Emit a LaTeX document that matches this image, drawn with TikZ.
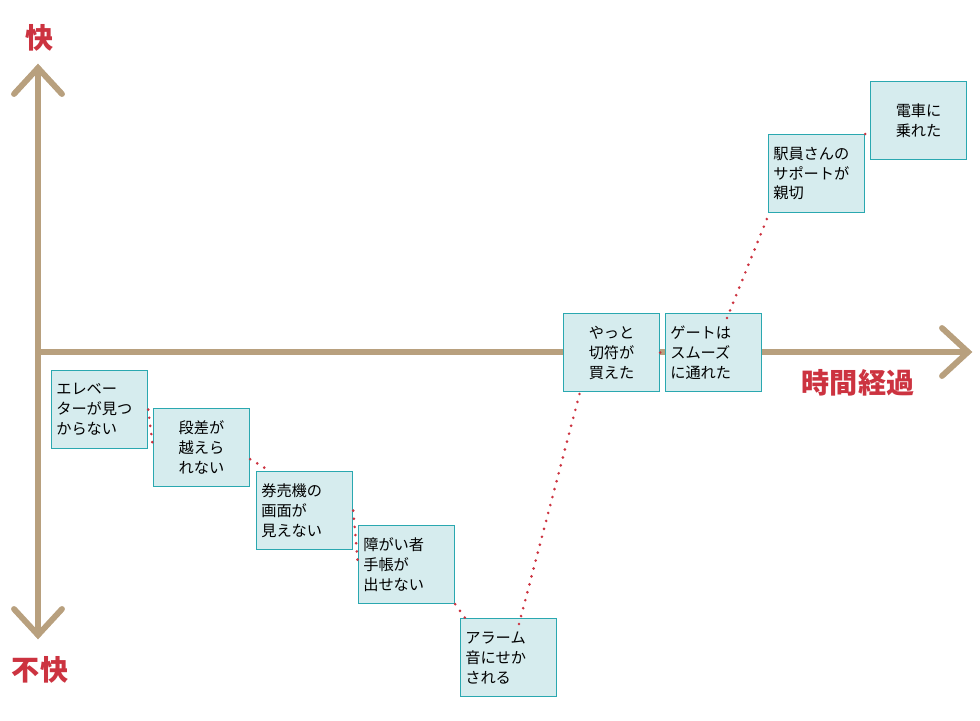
\documentclass[tikz,border=0pt]{standalone}
\usepackage{fontspec}
\setmainfont{Noto Sans CJK JP}
\definecolor{axiscol}{HTML}{B8A07E}
\definecolor{boxfill}{HTML}{D6ECEE}
\definecolor{boxline}{HTML}{2AA8B0}
\definecolor{labred}{HTML}{CC3340}
\begin{document}
\begin{tikzpicture}[x=0.03cm,y=-0.03cm]
    \tikzstyle{axis}=[draw=axiscol,line width=5pt,line cap=round]
    \tikzstyle{scene}=[draw=boxline,fill=boxfill,line width=1pt,minimum width=2.88cm,minimum height=2.34cm,
        inner sep=4pt,anchor=north west,font=\fontsize{13pt}{17pt}\selectfont]
    \tikzstyle{leftscene}=[scene,align=left,text width=2.6cm]
    \tikzstyle{midscene}=[scene,align=center]
    \tikzstyle{link}=[draw=labred,line width=2.5pt,line cap=round,dash pattern=on 0pt off 7pt]
    \tikzstyle{axlabel}=[text=labred,font=\fontsize{24pt}{28pt}\selectfont\bfseries]
    \useasboundingbox (0,0) rectangle (980,720);

    % Axes
    \coordinate (top) at (38,68);
    \coordinate (bottom) at (38,635);
    \coordinate (origin) at (38,352);
    \coordinate (right) at (968,352);
    \draw[axis] (top) -- (bottom);
    \draw[axis] (origin) -- (right);
    \draw[axis] (14,94) -- (top) -- (62,94);
    \draw[axis] (14,609) -- (bottom) -- (62,609);
    \draw[axis] (942,328) -- (right) -- (942,376);

    % Axis labels
    \node[axlabel] (fast) at (40,38) {快};
    \node[axlabel] (slow) at (40,670) {不快};
    \node[axlabel] (time) at (858,383) {時間経過};

    % Scenes
    \node[leftscene] (s1) at (51,370) {エレベー\\ターが見つ\\からない};
    \node[midscene] (s2) at (153,408) {段差が\\越えら\\れない};
    \node[leftscene] (s3) at (256,471) {券売機の\\画面が\\見えない};
    \node[leftscene] (s4) at (358,525) {障がい者\\手帳が\\出せない};
    \node[leftscene] (s5) at (460,618) {アラーム\\音にせか\\される};
    \node[midscene] (s6) at (563,313) {やっと\\切符が\\買えた};
    \node[leftscene] (s7) at (665,313) {ゲートは\\スムーズ\\に通れた};
    \node[leftscene] (s8) at (768,134) {駅員さんの\\サポートが\\親切};
    \node[midscene] (s9) at (870,81) {電車に\\乗れた};

    % Links between scenes
    \path[link] (s1.east) -- (s2.west);
    \path[link] (s2.south east) ++(0,-28) -- ([xshift=14*0.03cm]s3.north west);
    \path[link] (s3.east) -- (s4.west);
    \path[link] (s4.south east) -- ([xshift=8*0.03cm,yshift=-4*0.03cm]s5.north west);
    \path[link] ([xshift=59*0.03cm,yshift=-6*0.03cm]s5.north west) -- ([xshift=17*0.03cm]s6.south west);
    \path[link] (s6.east) -- (s7.west);
    \path[link] ([xshift=62*0.03cm,yshift=-5*0.03cm]s7.north west) -- ([yshift=-3*0.03cm]s8.south west);
    \path[link] ([yshift=0]s8.north east) -- ([yshift=-53*0.03cm]s9.north west);
\end{tikzpicture}
\end{document}
